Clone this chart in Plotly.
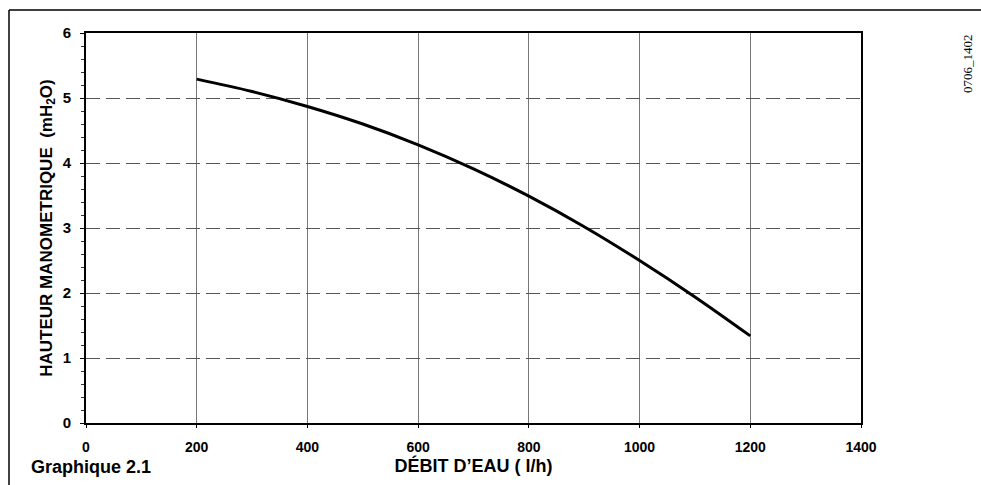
import plotly.graph_objects as go

# Pump curve: available head versus water flow
debit = [200, 300, 400, 500, 600, 700, 800, 900, 1000, 1100, 1200]
hauteur = [5.29, 5.10, 4.87, 4.60, 4.28, 3.91, 3.49, 3.02, 2.50, 1.94, 1.34]

x_ticks = [0, 200, 400, 600, 800, 1000, 1200, 1400]
y_ticks = [0, 1, 2, 3, 4, 5, 6]

FONT = "Liberation Sans, Arial, sans-serif"

fig = go.Figure()
fig.add_trace(go.Scatter(
    x=debit, y=hauteur, mode="lines",
    line=dict(color="black", width=3, shape="spline", smoothing=1.0),
    hoverinfo="x+y", showlegend=False,
))

W, H = 981, 485
ML, MR, MT, MB = 86, 120, 33, 62

fig.update_layout(
    width=W, height=H,
    margin=dict(l=ML, r=MR, t=MT, b=MB),
    paper_bgcolor="white", plot_bgcolor="white",
    font=dict(family=FONT, color="black"),
)

fig.update_xaxes(
    range=[0, 1400], tickvals=x_ticks, ticktext=[str(v) for v in x_ticks],
    tickfont=dict(size=14, weight="bold"),
    showgrid=True, gridcolor="#777777", gridwidth=1,
    showline=True, linecolor="black", linewidth=2, mirror=True,
    ticks="outside", ticklen=3, tickcolor="black",
    ticklabelstandoff=7,
    zeroline=False,
    title=dict(text="DÉBIT D’EAU ( l/h)", font=dict(size=18, weight="bold"), standoff=2),
)
fig.update_yaxes(
    range=[0, 6], tickvals=y_ticks, ticktext=[str(v) for v in y_ticks],
    tickfont=dict(size=15, weight="bold"),
    showgrid=True, gridcolor="#555555", gridwidth=1, griddash="14px,6px",
    showline=True, linecolor="black", linewidth=2, mirror=True,
    ticks="outside", ticklen=4, tickcolor="black",
    ticklabelstandoff=6,
    minor=dict(dtick=0.2, ticks="outside", ticklen=3, tickcolor="#333333", showgrid=False),
    zeroline=False,
    title=dict(text="HAUTEUR MANOMETRIQUE  (mH<sub>2</sub>O)",
               font=dict(size=17, weight="bold"), standoff=6),
)

pw = W - ML - MR
ph = H - MT - MB
def px(x):
    return (x - ML) / pw
def py(y):
    return (H - MB - y) / ph

# Outer frame: top and left rules
fig.add_shape(type="line", xref="paper", yref="paper",
              x0=px(9), x1=px(981), y0=py(10), y1=py(10),
              line=dict(color="black", width=1.5))
fig.add_shape(type="line", xref="paper", yref="paper",
              x0=px(9), x1=px(9), y0=py(10), y1=py(485),
              line=dict(color="black", width=1.5))

fig.add_annotation(text="Graphique 2.1", xref="paper", yref="paper",
                   x=px(29), y=py(467), xanchor="left", yanchor="middle",
                   showarrow=False, font=dict(size=18, weight="bold", family=FONT))
fig.add_annotation(text="0706_1402", xref="paper", yref="paper",
                   x=px(967), y=py(64), xanchor="center", yanchor="middle",
                   textangle=-90, showarrow=False,
                   font=dict(size=13, family="Liberation Serif, Times New Roman, serif"))

fig.write_html("out.html")
